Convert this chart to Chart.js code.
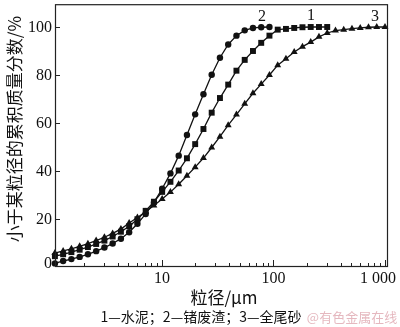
<!DOCTYPE html>
<html><head><meta charset="utf-8">
<script src="https://cdn.jsdelivr.net/npm/chart.js@4/dist/chart.umd.min.js"></script>
<style>html,body{margin:0;padding:0;background:#fff;overflow:hidden}</style>
</head><body><canvas id="c" width="400" height="327"></canvas>
<script>
// particle diameters (µm), common measuring grid
const diameters = [1.098,1.301,1.543,1.830,2.170,2.573,3.051,3.617,4.289,5.085,6.030,7.150,8.478,10.05,11.92,14.14,16.76,19.87,23.57,27.94,33.13,39.29,46.58,55.24,65.50,77.67,92.06,109.2,129.4,153.5,182.0,215.8,255.9,303.4,359.8,426.6,505.8,599.8,711.2,843.4,1000];
// 1 — 水泥 (cement)
const cement = [4.5,5.3,6.2,7.2,8.3,9.6,11.0,12.7,14.7,17.0,19.9,23.4,27.2,31.3,35.5,40.2,45.3,51.2,57.5,64.3,70.4,76.0,81.8,86.3,90.0,93.4,96.4,98.9,99.2,99.6,99.9,100,100,100];
// 2 — 锗废渣 (germanium slag)
const slag = [1.5,2.5,3.3,4.2,5.3,6.6,8.1,9.8,11.8,14.5,18.0,22.1,26.9,32.6,39.0,46.4,55.0,63.6,72.0,80.1,87.2,92.7,96.4,98.6,99.6,99.9,100];
// 3 — 全尾砂 (tailings)
const tailings = [5.8,6.7,7.6,8.6,9.7,11.0,12.4,14.0,15.8,18.3,20.6,23.0,25.6,28.3,31.2,34.5,38.0,41.6,45.4,49.8,54.3,59.1,63.5,68.0,72.4,76.2,80.0,84.1,86.8,89.6,91.8,93.7,95.9,97.5,98.5,98.9,99.3,99.6,99.9,100,100];

const yTicks = [0,20,40,60,80,100];
const xTicks = [10,100,1000];
const xTickLabels = ['10','100','1 000'];
const curveLabels = ['1','2','3'];
const curveLabelAt = [[217,104.5],[79,104.2],[813,104.2]];
const xTitle = '粒径/μm';
const yTitle = '小于某粒径的累积质量分数/%';
const caption = '1—水泥；2—锗废渣；3—全尾砂';
const watermark = '@有色金属在线';

const SERIF = '"Liberation Serif","Noto Sans CJK SC",serif';
const CJK = '"Noto Sans CJK SC","Liberation Serif",sans-serif';

function pts(vals){ return vals.map((v,i)=>({x:diameters[i], y:v})); }

const deco = {
  id:'deco',
  afterDraw(chart){
    const {ctx, chartArea:a, scales:{x,y}} = chart;
    ctx.save();
    ctx.strokeStyle='#222'; ctx.lineWidth=1.2;
    ctx.strokeRect(a.left+0.5, a.top+0.5, a.right-a.left-1, a.bottom-a.top-1);
    ctx.lineWidth=1;
    // y ticks inward
    ctx.fillStyle='#111';
    ctx.font='16px '+SERIF;
    ctx.textAlign='right'; ctx.textBaseline='middle';
    yTicks.forEach(v=>{
      const py=Math.round(y.getPixelForValue(v))+0.5;
      if (v>0){ctx.beginPath(); ctx.moveTo(a.left,py); ctx.lineTo(a.left+5,py); ctx.stroke();}
      ctx.fillText(String(v), 52, v===0 ? py-4 : py);
    });
    // x ticks inward (log)
    for (let dec=1; dec<=1000; dec*=10){
      for (let m=1; m<10; m++){
        const v=dec*m; if (v<x.min||v>x.max) continue;
        const px=Math.round(x.getPixelForValue(v))+0.5;
        const len = m===1?7:4;
        ctx.beginPath(); ctx.moveTo(px,a.bottom); ctx.lineTo(px,a.bottom-len); ctx.stroke();
      }
    }
    ctx.textAlign='center'; ctx.textBaseline='middle';
    xTicks.forEach((v,i)=>{
      let px=x.getPixelForValue(v);
      if (i===xTicks.length-1) px-=7;
      ctx.fillText(xTickLabels[i], px, 279);
    });
    // curve labels
    curveLabels.forEach((t,i)=>{
      ctx.fillText(t, x.getPixelForValue(curveLabelAt[i][0]), y.getPixelForValue(curveLabelAt[i][1]));
    });
    // titles
    ctx.font='17px '+CJK;
    ctx.fillText(xTitle, 224, 298);
    ctx.save();
    ctx.translate(15,129); ctx.rotate(-Math.PI/2);
    ctx.fillText(yTitle, 0, 0);
    ctx.restore();
    ctx.font='14px '+CJK;
    ctx.fillText(caption, 201, 317);
    ctx.fillStyle='rgba(220,160,170,0.75)';
    ctx.font='13px '+CJK;
    ctx.fillText(watermark, 352, 317);
    ctx.restore();
  }
};

const common = {borderColor:'#111', backgroundColor:'#111', borderWidth:1.3, tension:0, pointBorderWidth:0, clip:false};

new Chart(document.getElementById('c'), {
  type:'line',
  data:{datasets:[
    Object.assign({label:'1—水泥', data:pts(cement), pointStyle:'rect', pointRadius:4.2}, common),
    Object.assign({label:'2—锗废渣', data:pts(slag), pointStyle:'circle', pointRadius:3.2}, common),
    Object.assign({label:'3—全尾砂', data:pts(tailings), pointStyle:'triangle', pointRadius:4}, common)
  ]},
  options:{
    responsive:false, animation:false, devicePixelRatio:1,
    layout:{padding:{left:0, top:1, right:12, bottom:0}},
    plugins:{legend:{display:false}, tooltip:{enabled:false}},
    scales:{
      x:{type:'logarithmic', min:1.1, max:1064,
         grid:{display:false}, border:{display:false}, ticks:{display:false},
         afterFit(s){ s.height=60; }},
      y:{type:'linear', min:0, max:109.5,
         grid:{display:false}, border:{display:false}, ticks:{display:false},
         afterFit(s){ s.width=55; }}
    }
  },
  plugins:[deco]
});
</script>
</body></html>
